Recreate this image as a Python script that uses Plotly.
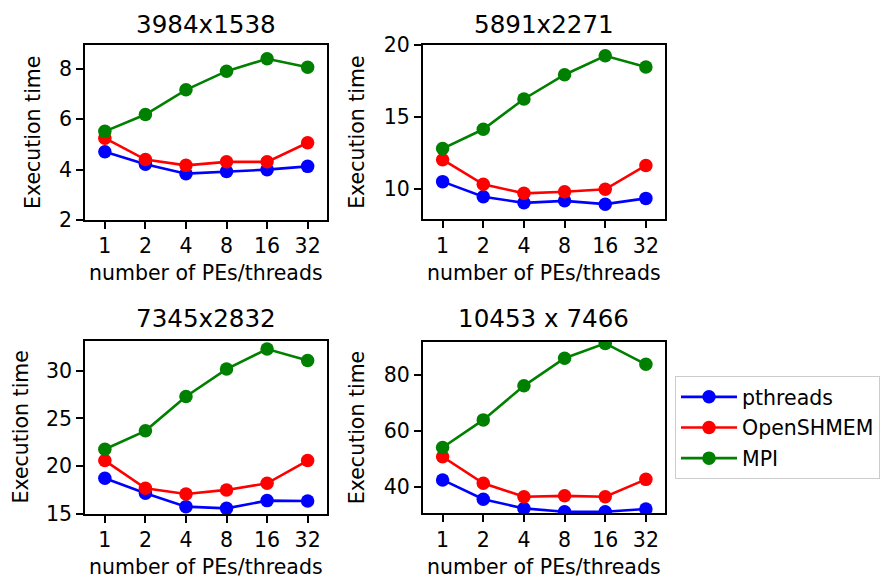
import plotly.graph_objects as go

# x categories: number of PEs / threads
pes = ["1", "2", "4", "8", "16", "32"]

# execution times per problem size
pthreads_3984 = [4.71, 4.21, 3.84, 3.93, 4.00, 4.13]
shmem_3984 = [5.25, 4.40, 4.17, 4.31, 4.31, 5.07]
mpi_3984 = [5.52, 6.19, 7.17, 7.91, 8.40, 8.07]

pthreads_5891 = [10.53, 9.48, 9.06, 9.20, 8.97, 9.37]
shmem_5891 = [12.05, 10.35, 9.72, 9.83, 10.00, 11.65]
mpi_5891 = [12.82, 14.16, 16.26, 17.94, 19.25, 18.48]

pthreads_7345 = [18.74, 17.17, 15.77, 15.59, 16.40, 16.36]
shmem_7345 = [20.59, 17.69, 17.10, 17.52, 18.21, 20.59]
mpi_7345 = [21.78, 23.70, 27.30, 30.16, 32.26, 31.07]

pthreads_10453 = [42.4, 35.5, 32.2, 31.0, 31.0, 32.0]
shmem_10453 = [50.7, 41.2, 36.4, 36.7, 36.4, 42.6]
mpi_10453 = [54.0, 63.9, 76.1, 86.0, 91.3, 83.8]

titles = ["3984x1538", "5891x2271", "7345x2832", "10453 x 7466"]
series_names = ["pthreads", "OpenSHMEM", "MPI"]
colors = ["#0000ff", "#ff0000", "#008000"]

panels = [
    (pthreads_3984, shmem_3984, mpi_3984),
    (pthreads_5891, shmem_5891, mpi_5891),
    (pthreads_7345, shmem_7345, mpi_7345),
    (pthreads_10453, shmem_10453, mpi_10453),
]

W, H = 882, 581
FONT = "DejaVu Sans"
FS = 20.5

# pixel boxes of each panel: (left, right, top, bottom)
boxes = [
    (85, 326.7, 45, 220),
    (422.7, 665, 45, 219.3),
    (85, 326.7, 341, 514),
    (422.7, 665, 341.7, 513.3),
]
yranges = [[2, 8.95], [7.92, 20.0], [15, 33.1], [30.45, 91.9]]
ydticks = [2, 5, 5, 20]
ylabel_x = [32.5, 356.7, 20, 356.7]
title_y = [24, 24, 318, 318]
xlabel_y = [273, 273, 567, 567]

fig = go.Figure()
layout = dict(
    width=W, height=H,
    margin=dict(l=0, r=0, t=0, b=0, pad=0, autoexpand=False),
    paper_bgcolor="white", plot_bgcolor="white",
    font=dict(family=FONT, size=FS, color="black"),
    showlegend=True,
)
annotations = []

for i, (box, data) in enumerate(zip(boxes, panels)):
    l, r, t, b = box
    xa = "xaxis" if i == 0 else f"xaxis{i+1}"
    ya = "yaxis" if i == 0 else f"yaxis{i+1}"
    xref = "x" if i == 0 else f"x{i+1}"
    yref = "y" if i == 0 else f"y{i+1}"
    axis_common = dict(
        showline=True, linecolor="black", linewidth=1.6, mirror=True,
        ticks="outside", ticklen=7, tickwidth=1.6, tickcolor="black",
        showgrid=False, zeroline=False, automargin=False,
        tickfont=dict(family=FONT, size=FS, color="black"),
    )
    layout[xa] = dict(
        domain=[l / W, r / W], anchor=yref, type="category",
        categoryorder="array", categoryarray=pes,
        range=[-0.49, 5.47], **axis_common,
    )
    layout[ya] = dict(
        domain=[(H - b) / H, (H - t) / H], anchor=xref,
        range=yranges[i], dtick=ydticks[i], tick0=0, **axis_common,
    )
    for j, (vals, name, col) in enumerate(zip(data, series_names, colors)):
        fig.add_trace(go.Scatter(
            x=pes, y=vals, name=name, mode="lines+markers",
            line=dict(color=col, width=2.6),
            marker=dict(color=col, size=13.5),
            xaxis=xref, yaxis=yref,
            legendgroup=name, showlegend=(i == 0),
        ))
    cx = (l + r) / 2 / W
    annotations.append(dict(
        text=titles[i], x=cx, y=(H - title_y[i]) / H, xref="paper", yref="paper",
        xanchor="center", yanchor="middle", showarrow=False,
        font=dict(family=FONT, size=24.6, color="black"),
    ))
    annotations.append(dict(
        text="number of PEs/threads", x=cx, y=(H - xlabel_y[i]) / H,
        xref="paper", yref="paper", xanchor="center", yanchor="middle",
        showarrow=False, font=dict(family=FONT, size=FS, color="black"),
    ))
    annotations.append(dict(
        text="Execution time", x=ylabel_x[i] / W, y=(H - (t + b) / 2) / H,
        xref="paper", yref="paper", xanchor="center", yanchor="middle",
        textangle=-90, showarrow=False,
        font=dict(family=FONT, size=FS, color="black"),
    ))

layout["annotations"] = annotations
layout["legend"] = dict(
    x=675 / W, y=(H - 376) / H, xanchor="left", yanchor="top",
    bgcolor="white", bordercolor="#cccccc", borderwidth=1,
    font=dict(family=FONT, size=FS, color="black"),
    traceorder="grouped", tracegroupgap=1,
    itemwidth=56, entrywidth=190, entrywidthmode="pixels",
)
fig.update_layout(**layout)
fig.write_html("out.html")
